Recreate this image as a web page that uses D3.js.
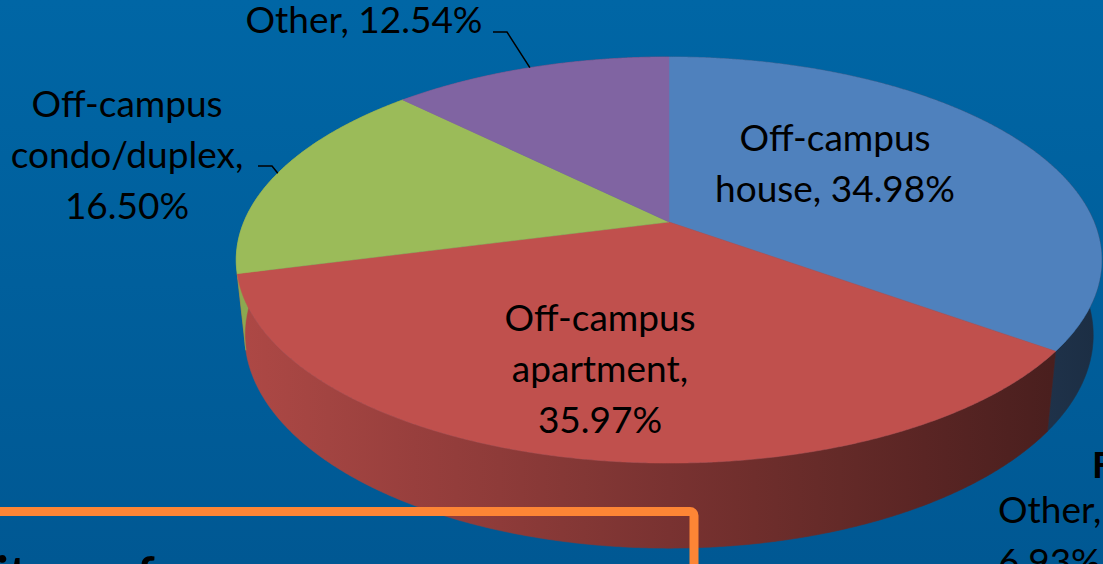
<!DOCTYPE html>
<html>
<head>
<meta charset="utf-8">
<script src="https://cdn.jsdelivr.net/npm/d3@7"></script>
<style>
  html, body { margin: 0; padding: 0; overflow: hidden; }
  text { font-family: Lato, "Open Sans", sans-serif; }
</style>
</head>
<body>
<div id="chart"></div>
<script>
const categories = ["Off-campus house", "Off-campus apartment", "Off-campus condo/duplex", "Other"];
const shares = [34.98, 35.97, 16.50, 12.54];
const sliceColors = ["#4f81bd", "#c0504d", "#9bbb59", "#8064a2"];

const width = 1103, height = 564;

// label layout: first baseline, wrap width, optional leader start
const labelLayout = [
  { x: 835, y: 151, wrap: 265 },
  { x: 600, y: 331, wrap: 265 },
  { x: 127, y: 117, wrap: 265, leader: [258, 166] },
  { x: 364, y: 33, wrap: 265, leader: [493, 32] }
];

// perspective camera for the 3d pie
const cam = { cx: 669, cy: 222, f: 2015, d: 4.74, tilt: Math.asin(0.461), depth: 0.2 };
const sA = Math.sin(cam.tilt), cA = Math.cos(cam.tilt);

function project(angle, r, h) {
  const u = r * Math.sin(angle), v = -r * Math.cos(angle);
  const Y = v * sA - h * cA;
  const Z = cam.d - v * cA - h * sA;
  return [cam.cx + cam.f * u / Z, cam.cy + cam.f * Y / Z];
}

const svg = d3.select("#chart").append("svg")
  .attr("width", width)
  .attr("height", height);

const defs = svg.append("defs");
const bg = defs.append("linearGradient").attr("id", "bg")
  .attr("x1", 0).attr("y1", 0).attr("x2", 0).attr("y2", 1);
bg.append("stop").attr("offset", "0%").attr("stop-color", "#0066a5");
bg.append("stop").attr("offset", "100%").attr("stop-color", "#005893");

svg.append("rect").attr("width", width).attr("height", height).attr("fill", "url(#bg)");

const pie = d3.pie().sort(null).value(d => d);
const arcs = pie(shares);

// side shading from left (lit) to right (dark)
const shade = d3.scaleLinear().domain([-1, 1]).range([0.9, 0.36]);
const xLeft = project(-Math.PI / 2, 1, 0)[0], xRight = project(Math.PI / 2, 1, 0)[0];

arcs.forEach((a, i) => {
  const g = defs.append("linearGradient").attr("id", "side" + i)
    .attr("gradientUnits", "userSpaceOnUse")
    .attr("x1", xLeft).attr("x2", xRight).attr("y1", 0).attr("y2", 0);
  d3.range(0, 1.0001, 0.1).forEach(t => {
    const c = d3.rgb(sliceColors[i]);
    const k = shade(-1 + 2 * t);
    g.append("stop").attr("offset", t)
      .attr("stop-color", d3.rgb(c.r * k, c.g * k, c.b * k).formatHex());
  });
});

function arcPoints(a, h) {
  const n = Math.max(2, Math.ceil((a.endAngle - a.startAngle) / 0.005));
  return d3.range(n + 1).map(j => project(a.startAngle + (a.endAngle - a.startAngle) * j / n, 1, h));
}

const pieG = svg.append("g");
const line = d3.line();

// outer walls
arcs.forEach((a, i) => {
  const top = arcPoints(a, 0), bottom = arcPoints(a, -cam.depth).reverse();
  pieG.append("path")
    .attr("d", line(top.concat(bottom)) + "Z")
    .attr("fill", `url(#side${i})`)
    .attr("stroke", `url(#side${i})`)
    .attr("stroke-width", 0.6);
});

// top faces
arcs.forEach((a, i) => {
  const pts = [project(0, 0, 0)].concat(arcPoints(a, 0));
  pieG.append("path")
    .attr("d", line(pts) + "Z")
    .attr("fill", sliceColors[i])
    .attr("stroke", sliceColors[i])
    .attr("stroke-width", 0.5);
});

// data labels
const labels = svg.append("g").attr("font-size", 37).attr("fill", "#000");
arcs.forEach((a, i) => {
  const L = labelLayout[i];
  const words = `${categories[i]}, ${shares[i].toFixed(2)}%`.split(/\s+/);
  const t = labels.append("text").attr("text-anchor", "middle");
  let lines = [], cur = [];
  const probe = t.append("tspan");
  words.forEach(w => {
    probe.text(cur.concat([w]).join(" "));
    if (cur.length && probe.node().getComputedTextLength() > L.wrap) {
      lines.push(cur.join(" "));
      cur = [w];
    } else cur.push(w);
  });
  lines.push(cur.join(" "));
  probe.remove();
  lines.forEach((s, k) => {
    t.append("tspan").attr("x", L.x).attr("y", L.y + k * 51).text(s);
  });
  if (L.leader) {
    const mid = (a.startAngle + a.endAngle) / 2;
    const end = project(mid, 1, 0);
    labels.append("path")
      .attr("d", line([L.leader, [L.leader[0] + 14, L.leader[1]], end]))
      .attr("fill", "none")
      .attr("stroke", "#000")
      .attr("stroke-width", 1.5);
  }
});

// pieces of the neighbouring slide content
svg.append("rect")
  .attr("x", -20).attr("y", 511.5)
  .attr("width", 714).attr("height", 120)
  .attr("rx", 4)
  .attr("fill", "none")
  .attr("stroke", "#fd8535")
  .attr("stroke-width", 9);

svg.append("text").attr("x", -4).attr("y", 592)
  .attr("font-size", 50).attr("font-weight", "bold").text("itors of");

svg.append("text").attr("x", 1092).attr("y", 478)
  .attr("font-size", 37).attr("font-weight", "bold").text("F");
svg.append("text").attr("x", 998).attr("y", 523)
  .attr("font-size", 37).text("Other,");
svg.append("text").attr("x", 998).attr("y", 575)
  .attr("font-size", 37).text("6.93%");
</script>
</body>
</html>
